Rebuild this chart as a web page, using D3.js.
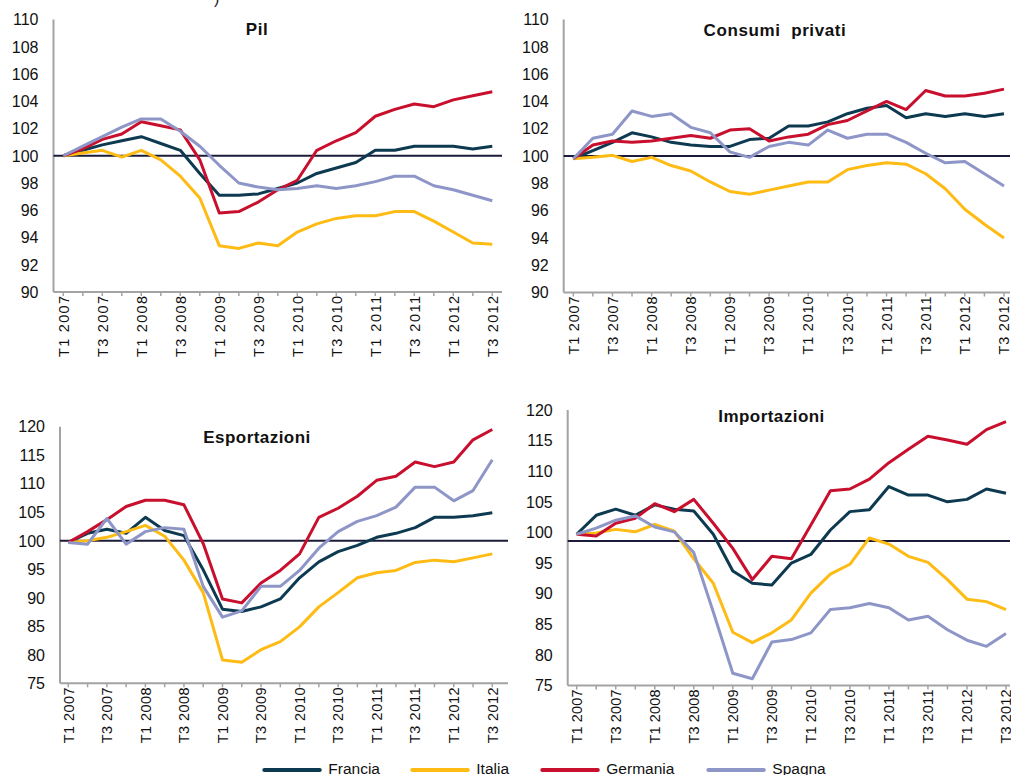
<!DOCTYPE html>
<html>
<head>
<meta charset="utf-8">
<script src="https://cdn.jsdelivr.net/npm/d3@7"></script>
<style>
  body { margin: 0; background: #fff; }
  svg { display: block; font-family: "Liberation Sans", Arial, sans-serif; }
</style>
</head>
<body>
<svg id="chart" width="1011" height="775"></svg>
<script>
// quarters T1 2007 .. T3 2012
const QUARTERS = [];
for (let y = 2007; y <= 2012; y++) {
  for (let q = 1; q <= 4; q++) {
    if (y === 2012 && q === 4) break;
    QUARTERS.push(`T${q} ${y}`);
  }
}

const COUNTRIES = ["Francia", "Italia", "Germania", "Spagna"];
const COLORS = ["#0d3a50", "#fdbb14", "#c8102e", "#8e96c8"];

// Pil
const PIL_FRANCIA = [100, 100.4, 100.8, 101.1, 101.4, 100.9, 100.4, 98.7, 97.1, 97.1, 97.2, 97.6, 98.0, 98.7, 99.1, 99.5, 100.4, 100.4, 100.7, 100.7, 100.7, 100.5, 100.7];
const PIL_ITALIA = [100, 100.2, 100.4, 99.9, 100.4, 99.7, 98.5, 96.9, 93.4, 93.2, 93.6, 93.4, 94.4, 95.0, 95.4, 95.6, 95.6, 95.9, 95.9, 95.2, 94.4, 93.6, 93.5];
const PIL_GERMANIA = [100, 100.5, 101.2, 101.6, 102.5, 102.2, 101.9, 99.7, 95.8, 95.9, 96.6, 97.5, 98.2, 100.4, 101.1, 101.7, 102.9, 103.4, 103.8, 103.6, 104.1, 104.4, 104.7];
const PIL_SPAGNA = [100, 100.7, 101.4, 102.1, 102.7, 102.7, 101.8, 100.7, 99.3, 98.0, 97.7, 97.5, 97.6, 97.8, 97.6, 97.8, 98.1, 98.5, 98.5, 97.8, 97.5, 97.1, 96.7];

// Consumi privati
const CONS_FRANCIA = [99.8, 100.4, 101.0, 101.7, 101.4, 101.0, 100.8, 100.7, 100.7, 101.2, 101.3, 102.2, 102.2, 102.5, 103.1, 103.5, 103.7, 102.8, 103.1, 102.9, 103.1, 102.9, 103.1];
const CONS_ITALIA = [99.8, 99.9, 100.05, 99.6, 99.9, 99.3, 98.9, 98.1, 97.4, 97.2, 97.5, 97.8, 98.1, 98.1, 99.0, 99.3, 99.5, 99.4, 98.7, 97.6, 96.1, 95.0, 94.0];
const CONS_GERMANIA = [99.8, 100.8, 101.1, 101.0, 101.1, 101.3, 101.5, 101.3, 101.9, 102.0, 101.1, 101.4, 101.6, 102.3, 102.6, 103.3, 104.0, 103.4, 104.8, 104.4, 104.4, 104.6, 104.9];
const CONS_SPAGNA = [99.8, 101.3, 101.6, 103.3, 102.9, 103.1, 102.1, 101.7, 100.3, 99.9, 100.7, 101.0, 100.8, 101.9, 101.3, 101.6, 101.6, 101.0, 100.2, 99.5, 99.6, 98.7, 97.8];

// Esportazioni
const EXP_FRANCIA = [99.7, 101.3, 102.0, 101.3, 104.1, 101.8, 100.9, 94.9, 88.0, 87.6, 88.4, 89.8, 93.5, 96.3, 98.1, 99.2, 100.6, 101.3, 102.3, 104.1, 104.1, 104.4, 104.9];
const EXP_ITALIA = [99.7, 100.0, 100.6, 101.6, 102.7, 100.8, 96.6, 90.9, 79.1, 78.7, 80.9, 82.3, 84.9, 88.4, 90.9, 93.5, 94.4, 94.8, 96.2, 96.6, 96.3, 97.0, 97.7];
const EXP_GERMANIA = [99.7, 101.6, 103.7, 106.0, 107.1, 107.1, 106.3, 99.5, 89.8, 89.1, 92.6, 94.8, 97.7, 104.1, 105.7, 107.8, 110.6, 111.3, 113.8, 113.0, 113.8, 117.7, 119.5];
const EXP_SPAGNA = [99.7, 99.4, 103.9, 99.4, 101.6, 102.3, 102.0, 92.0, 86.6, 87.7, 92.0, 92.0, 94.8, 98.7, 101.6, 103.4, 104.4, 105.9, 109.4, 109.4, 107.0, 108.8, 114.2];

// Importazioni
const IMP_FRANCIA = [99.7, 102.8, 103.8, 102.8, 104.5, 103.8, 103.5, 99.7, 93.7, 91.7, 91.4, 95.0, 96.4, 100.4, 103.4, 103.7, 107.5, 106.1, 106.1, 105.0, 105.4, 107.1, 106.4];
const IMP_ITALIA = [99.7, 99.9, 100.5, 100.1, 101.3, 100.2, 95.7, 91.7, 83.7, 82.0, 83.6, 85.7, 90.1, 93.2, 94.8, 99.1, 98.1, 96.1, 95.1, 92.3, 89.1, 88.7, 87.4];
const IMP_GERMANIA = [99.7, 99.4, 101.5, 102.3, 104.7, 103.4, 105.4, 101.5, 97.4, 92.3, 96.1, 95.7, 101.2, 106.8, 107.1, 108.7, 111.4, 113.6, 115.7, 115.1, 114.4, 116.8, 118.1];
const IMP_SPAGNA = [99.7, 100.7, 102.0, 102.7, 100.9, 100.1, 96.7, 87.0, 77.0, 76.1, 82.1, 82.5, 83.6, 87.4, 87.7, 88.4, 87.7, 85.7, 86.3, 84.1, 82.4, 81.4, 83.5];

const TICKS_SMALL = d3.range(90, 111, 2);
const TICKS_LARGE = d3.range(75, 121, 5);

const panels = [
  { title: "Pil", series: [PIL_FRANCIA, PIL_ITALIA, PIL_GERMANIA, PIL_SPAGNA],
    domain: [90, 110], ticks: TICKS_SMALL, ref: 100,
    axisX: 53.5, x0: 63.3, x1: 492.3, axisEnd: 502, yBottom: 292, yTop: 19.5,
    titleX: 257, titleY: 35, labelLen: 61, titleSpacing: 0.5 },
  { title: "Consumi  privati", series: [CONS_FRANCIA, CONS_ITALIA, CONS_GERMANIA, CONS_SPAGNA],
    domain: [90, 110], ticks: TICKS_SMALL, ref: 100,
    axisX: 563.7, x0: 573.3, x1: 1004, axisEnd: 1010, yBottom: 292.5, yTop: 19.5,
    titleX: 775, titleY: 36, labelLen: 58, titleSpacing: 0.6 },
  { title: "Esportazioni", series: [EXP_FRANCIA, EXP_ITALIA, EXP_GERMANIA, EXP_SPAGNA],
    domain: [75, 120], ticks: TICKS_LARGE, ref: 100,
    axisX: 60, x0: 68.3, x1: 492.3, axisEnd: 508, yBottom: 683.3, yTop: 426.7,
    titleX: 257, titleY: 443, labelLen: 56, titleSpacing: 0.45 },
  { title: "Importazioni", series: [IMP_FRANCIA, IMP_ITALIA, IMP_GERMANIA, IMP_SPAGNA],
    domain: [75, 120], ticks: TICKS_LARGE, ref: 98.6,
    axisX: 567.7, x0: 576.7, x1: 1006, axisEnd: 1010, yBottom: 685.5, yTop: 410,
    titleX: 771.5, titleY: 422, labelLen: 54, titleSpacing: 0.45 }
];

const svg = d3.select("#chart");
const AXIS_COLOR = "#a3a3a3";

// clipped fragment of text above the chart
svg.append("text").attr("x", 214).attr("y", 4).attr("font-size", 16).attr("fill", "#222").text(")");

panels.forEach(drawPanel);
drawLegend();

function drawPanel(p) {
  const g = svg.append("g");
  const x = d3.scalePoint().domain(QUARTERS).range([p.x0, p.x1]);
  const y = d3.scaleLinear().domain(p.domain).range([p.yBottom, p.yTop]);

  // y axis
  g.append("line")
    .attr("x1", p.axisX).attr("x2", p.axisX)
    .attr("y1", p.yTop).attr("y2", p.yBottom)
    .attr("stroke", AXIS_COLOR).attr("stroke-width", 2);

  g.selectAll(".ylab")
    .data(p.ticks)
    .join("text")
    .attr("x", p.axisX - 15)
    .attr("y", (d) => y(d))
    .attr("dy", "0.36em")
    .attr("text-anchor", "end")
    .attr("font-size", 16)
    .attr("fill", "#111")
    .text((d) => d);

  // x axis
  g.append("line")
    .attr("x1", p.axisX).attr("x2", p.axisEnd)
    .attr("y1", p.yBottom).attr("y2", p.yBottom)
    .attr("stroke", AXIS_COLOR).attr("stroke-width", 2);

  g.selectAll(".xtick")
    .data(QUARTERS)
    .join("line")
    .attr("x1", (d) => x(d)).attr("x2", (d) => x(d))
    .attr("y1", p.yBottom).attr("y2", p.yBottom + 4)
    .attr("stroke", AXIS_COLOR).attr("stroke-width", 1.5);

  g.selectAll(".xlab")
    .data(QUARTERS.filter((d, i) => i % 2 === 0))
    .join("text")
    .attr("transform", (d) => `translate(${x(d)},${p.yBottom + 4}) rotate(-90)`)
    .attr("dy", "0.36em")
    .attr("text-anchor", "end")
    .attr("font-size", 14.5)
    .attr("fill", "#111")
    .attr("textLength", p.labelLen)
    .attr("lengthAdjust", "spacing")
    .text((d) => d);

  // reference line
  g.append("line")
    .attr("x1", p.axisX).attr("x2", p.axisEnd)
    .attr("y1", y(p.ref)).attr("y2", y(p.ref))
    .attr("stroke", "#1b1b3a").attr("stroke-width", 2);

  const line = d3.line().x((d, i) => x(QUARTERS[i])).y((d) => y(d));
  p.series.forEach((values, k) => {
    g.append("path")
      .datum(values)
      .attr("d", line)
      .attr("fill", "none")
      .attr("stroke", COLORS[k])
      .attr("stroke-width", 3)
      .attr("stroke-linejoin", "round");
  });

  g.append("text")
    .attr("x", p.titleX).attr("y", p.titleY)
    .attr("text-anchor", "middle")
    .attr("font-size", 17)
    .attr("font-weight", "bold")
    .attr("letter-spacing", p.titleSpacing)
    .attr("fill", "#111")
    .attr("xml:space", "preserve")
    .text(p.title);
}

function drawLegend() {
  const starts = [264.3, 412.3, 542.3, 708.3];
  const lg = svg.append("g");
  COUNTRIES.forEach((name, k) => {
    lg.append("line")
      .attr("x1", starts[k]).attr("x2", starts[k] + 55.5)
      .attr("y1", 770).attr("y2", 770)
      .attr("stroke", COLORS[k]).attr("stroke-width", 4)
      .attr("stroke-linecap", "round");
    lg.append("text")
      .attr("x", starts[k] + 64).attr("y", 773.5)
      .attr("font-size", 15.5)
      .attr("fill", "#111")
      .text(name);
  });
}
</script>
</body>
</html>
